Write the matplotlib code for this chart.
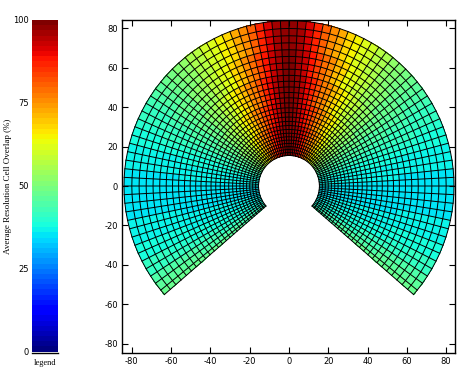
import numpy as np
import matplotlib
matplotlib.use('Agg')
import matplotlib.pyplot as plt

plt.rcParams['axes.unicode_minus'] = False

W, H = 464, 380

# grid of resolution cells, azimuth measured from north, range in plot units
az_edges_half = [0, 3, 6, 9, 12, 15, 18, 21, 24, 27, 30, 33, 36, 39, 42, 45, 48, 51, 54, 57, 60, 63,
                 66, 69, 72, 75, 78, 81, 84, 87, 90, 93, 96, 99, 102, 105, 108, 111, 114, 117, 120,
                 123, 126, 129, 131]
ring_edges = [15.5, 17, 18.5, 20, 21.6, 23.3, 25, 26.8, 28.7, 30.7, 32.8, 35, 37.3, 39.7, 42.2,
              44.8, 47.5, 50.3, 53.2, 56.2, 59.3, 62.5, 65.8, 69.2, 72.7, 76.3, 80, 84]
band_limits = [22, 30, 42, 56, 70]

# overlap (%) per azimuth column, inner range band to outer range band
band1 = [97, 96, 95, 93, 91, 89, 86, 83, 80, 77, 74, 70, 67, 64, 61, 58, 55, 53, 51, 49, 47, 45,
         43, 42, 40, 39, 38, 37, 36, 36, 35, 35, 35, 35, 35, 35, 36, 36, 37, 38, 39, 40, 42, 44]
band2 = [98, 97, 96, 94, 91, 88, 85, 81, 78, 75, 71, 68, 65, 62, 59, 56, 54, 52, 50, 48, 46, 44,
         43, 41, 40, 38, 37, 36, 36, 35, 35, 35, 35, 35, 35, 36, 36, 37, 38, 38, 39, 41, 43, 45]
band3 = [99, 97, 95, 92, 89, 85, 82, 78, 75, 71, 68, 65, 62, 59, 57, 54, 52, 50, 48, 47, 45, 44,
         42, 41, 39, 38, 37, 36, 36, 35, 35, 35, 35, 35, 35, 36, 36, 37, 38, 39, 40, 42, 44, 46]
band4 = [99, 97, 94, 90, 86, 82, 78, 75, 71, 68, 65, 62, 59, 57, 54, 52, 50, 48, 47, 45, 44, 43,
         41, 40, 39, 38, 37, 36, 36, 35, 35, 35, 35, 35, 35, 36, 36, 37, 38, 39, 41, 43, 45, 47]
band5 = [99, 96, 93, 88, 84, 79, 75, 71, 68, 64, 61, 59, 57, 54, 52, 50, 48, 47, 46, 44, 43, 42,
         41, 40, 38, 37, 36, 36, 35, 35, 35, 35, 35, 35, 36, 36, 37, 38, 39, 40, 42, 44, 46, 48]
band6 = [98, 96, 91, 86, 81, 76, 72, 68, 65, 62, 60, 57, 55, 53, 51, 49, 48, 46, 45, 43, 42, 41,
         40, 39, 38, 37, 36, 36, 35, 35, 35, 35, 35, 35, 36, 36, 37, 38, 39, 41, 42, 44, 46, 48]
bands = [band1, band2, band3, band4, band5, band6]

axis_ticks = [-80, -60, -40, -20, 0, 20, 40, 60, 80]
legend_ticks = [0, 25, 50, 75, 100]

cmap = plt.get_cmap('jet', 64)

fig = plt.figure(figsize=(W / 100, H / 100), dpi=100)


def box(l, t, r, b):
    return [l / W, 1 - b / H, (r - l) / W, (b - t) / H]


# main map
ax = fig.add_axes(box(122, 20, 455, 353))
half = np.array(az_edges_half, dtype=float)
az = np.radians(np.concatenate([-half[:0:-1], half]))
rng = np.array(ring_edges)
A, R = np.meshgrid(az, rng)
X = R * np.sin(A)
Y = R * np.cos(A)

centres = (rng[:-1] + rng[1:]) / 2
rows = []
for c in centres:
    row = bands[np.searchsorted(band_limits, c)]
    rows.append(row[::-1] + row)
Z = np.array(rows)

ax.pcolormesh(X, Y, Z, cmap=cmap, vmin=0, vmax=100, antialiased=False)
# cell outlines
ax.plot(X, Y, color='k', lw=0.7, snap=False)
ax.plot(X.T, Y.T, color='k', lw=0.7, snap=False)
ax.set_xlim(-85, 84.5)
ax.set_ylim(-84.8, 84.3)
ax.set_xticks(axis_ticks)
ax.set_yticks(axis_ticks)
ax.tick_params(direction='in', top=True, right=True, length=4, width=0.8, labelsize=6, pad=3)
for s in ax.spines.values():
    s.set_linewidth(1)

# legend bar
cax = fig.add_axes(box(32, 20, 58, 353))
edges = np.linspace(0, 100, 65)
levels = (edges[:-1] + edges[1:]) / 2
cax.pcolormesh([0, 1], edges, levels[:, None], cmap=cmap, vmin=0, vmax=100)
cax.set_xlim(0, 1)
cax.set_ylim(-0.4, 100)
cax.set_xticks([])
cax.set_yticks(legend_ticks)
cax.tick_params(length=0, labelsize=6, pad=2)
for name in ['top', 'left', 'right']:
    cax.spines[name].set_visible(False)
cax.spines['bottom'].set_linewidth(1)

fig.text(45 / W, 1 - 363 / H, 'legend', ha='center', va='center', fontsize=6,
         family='Liberation Serif')
fig.text(8.5 / W, 1 - 186 / H, 'Average Resolution Cell Overlap (%)', rotation=90, ha='center', va='center',
         fontsize=6.5, family='Liberation Serif')

fig.savefig('out.png', dpi=100)
